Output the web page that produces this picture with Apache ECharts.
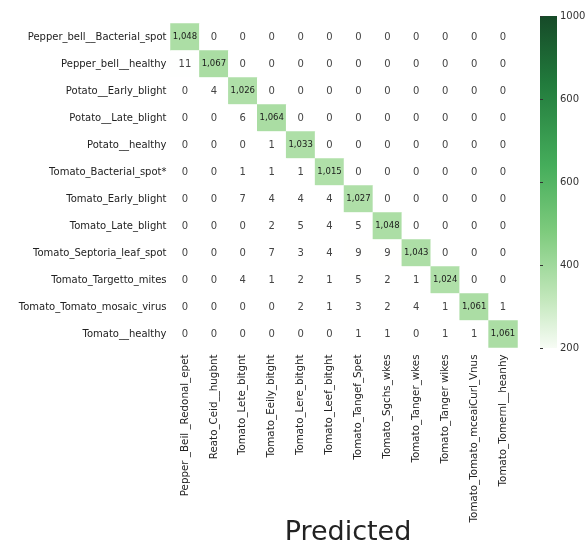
<!DOCTYPE html>
<html>
<head>
<meta charset="utf-8">
<script src="https://cdn.jsdelivr.net/npm/echarts@6/dist/echarts.min.js"></script>
<style>
  html, body { margin: 0; padding: 0; background: #ffffff; }
  #chart { width: 586px; height: 545px; }
</style>
</head>
<body>
<div id="chart"></div>
<script>
// True classes (rows, top to bottom)
const trueLabels = [
  'Pepper_bell__Bacterial_spot',
  'Pepper_bell__healthy',
  'Potato__Early_blight',
  'Potato__Late_blight',
  'Potato__healthy',
  'Tomato_Bacterial_spot*',
  'Tomato_Early_blight',
  'Tomato_Late_blight',
  'Tomato_Septoria_leaf_spot',
  'Tomato_Targetto_mites',
  'Tomato_Tomato_mosaic_virus',
  'Tomato__healthy'
];

// Predicted classes (columns, left to right)
const predLabels = [
  'Pepper _Beil _Redonal_epet',
  'Reato_Ceid__hugbnt',
  'Tomato_Lete_bitgnt',
  'Tomato_Eeily_bitght',
  'Tomato_Lere_bitght',
  'Tomato_Leef_bitght',
  'Tomato_Tangef_Spet',
  'Tomato_Sgchs_wkes',
  'Tomato_Tanger_wkes',
  'Tomato_Tanger wikes',
  'Tomato_Tomato_mceaiCurl_Vnus',
  'Tomato_Tomernl__heanhy'
];

// Counts per true class
const rowPepperBacterial = [1048, 0, 0, 0, 0, 0, 0, 0, 0, 0, 0, 0];
const rowPepperHealthy   = [11, 1067, 0, 0, 0, 0, 0, 0, 0, 0, 0, 0];
const rowPotatoEarly     = [0, 4, 1026, 0, 0, 0, 0, 0, 0, 0, 0, 0];
const rowPotatoLate      = [0, 0, 6, 1064, 0, 0, 0, 0, 0, 0, 0, 0];
const rowPotatoHealthy   = [0, 0, 0, 1, 1033, 0, 0, 0, 0, 0, 0, 0];
const rowTomatoBacterial = [0, 0, 1, 1, 1, 1015, 0, 0, 0, 0, 0, 0];
const rowTomatoEarly     = [0, 0, 7, 4, 4, 4, 1027, 0, 0, 0, 0, 0];
const rowTomatoLate      = [0, 0, 0, 2, 5, 4, 5, 1048, 0, 0, 0, 0];
const rowTomatoSeptoria  = [0, 0, 0, 7, 3, 4, 9, 9, 1043, 0, 0, 0];
const rowTomatoTarget    = [0, 0, 4, 1, 2, 1, 5, 2, 1, 1024, 0, 0];
const rowTomatoMosaic    = [0, 0, 0, 0, 2, 1, 3, 2, 4, 1, 1061, 1];
const rowTomatoHealthy   = [0, 0, 0, 0, 0, 0, 1, 1, 0, 1, 1, 1061];

// Colour bar ticks and their printed labels
const colorbarTicks = [200, 400, 600, 800, 1000];
const colorbarTickLabels = ['200', '400', '600', '600', '1000'];

const rows = [
  rowPepperBacterial, rowPepperHealthy, rowPotatoEarly, rowPotatoLate,
  rowPotatoHealthy, rowTomatoBacterial, rowTomatoEarly, rowTomatoLate,
  rowTomatoSeptoria, rowTomatoTarget, rowTomatoMosaic, rowTomatoHealthy
];

const cells = [];
rows.forEach((row, r) => row.forEach((v, c) => cells.push([c, r, v])));

const greens = ['#ffffff', '#eef8ea', '#d3eecd', '#acdea5', '#80c97e',
                '#4eae5e', '#2a8a44', '#106c2e', '#0b461f'];

const chart = echarts.init(document.getElementById('chart'), null, { renderer: 'canvas' });

chart.setOption({
  backgroundColor: '#ffffff',
  animation: false,
  grid: [
    { left: 170.5, top: 23.5, width: 347, height: 324, outerBoundsMode: 'none', containLabel: false },
    {
      left: 540, top: 16, width: 17, height: 332,
      outerBoundsMode: 'none', containLabel: false,
      show: true, borderWidth: 0,
      backgroundColor: new echarts.graphic.LinearGradient(0, 0, 0, 1, [
        { offset: 0.00, color: '#164a28' },
        { offset: 0.20, color: '#217a3c' },
        { offset: 0.45, color: '#45ad5b' },
        { offset: 0.65, color: '#7ecb7d' },
        { offset: 0.85, color: '#c2e7bb' },
        { offset: 1.00, color: '#f7fcf5' }
      ])
    }
  ],
  xAxis: [
    {
      type: 'category', gridIndex: 0, data: predLabels,
      axisLine: { show: false }, axisTick: { show: false }, splitLine: { show: false },
      axisLabel: {
        rotate: 90, interval: 0, margin: 7,
        fontFamily: 'DejaVu Sans', fontSize: 10.3, color: '#222'
      },
      name: 'Predicted', nameLocation: 'middle', nameGap: 172,
      nameMoveOverlap: false,
      nameTextStyle: { fontFamily: 'DejaVu Sans', fontSize: 27, color: '#222', padding: [0, 0, 0, 8] }
    },
    { type: 'value', gridIndex: 1, show: false, min: 0, max: 1 }
  ],
  yAxis: [
    {
      type: 'category', gridIndex: 0, data: trueLabels, inverse: true,
      axisLine: { show: false }, axisTick: { show: false }, splitLine: { show: false },
      axisLabel: {
        interval: 0, margin: 4,
        fontFamily: 'DejaVu Sans', fontSize: 10, color: '#222'
      }
    },
    {
      type: 'value', gridIndex: 1, position: 'right',
      min: 200, max: 1000, interval: 200,
      axisLine: { show: false },
      axisTick: { show: true, length: 3, lineStyle: { color: '#333' } },
      splitLine: { show: false },
      axisLabel: {
        margin: 3, fontFamily: 'DejaVu Sans', fontSize: 10, color: '#333',
        formatter: v => colorbarTickLabels[colorbarTicks.indexOf(v)]
      }
    }
  ],
  visualMap: {
    show: false, seriesIndex: 0, dimension: 2,
    min: 0, max: 2800,
    inRange: { color: greens }
  },
  series: [{
    type: 'heatmap',
    xAxisIndex: 0, yAxisIndex: 0,
    data: cells,
    itemStyle: { borderWidth: 0 },
    label: {
      show: true,
      formatter: p => {
        const v = p.value[2];
        return v >= 1000 ? '{d|' + v.toLocaleString('en-US') + '}' : '{n|' + v + '}';
      },
      rich: {
        d: { fontFamily: 'DejaVu Sans', fontSize: 8.5, color: '#1a1a1a' },
        n: { fontFamily: 'DejaVu Sans', fontSize: 10, color: '#444' }
      }
    },
    emphasis: { disabled: true }
  }]
});
</script>
</body>
</html>
